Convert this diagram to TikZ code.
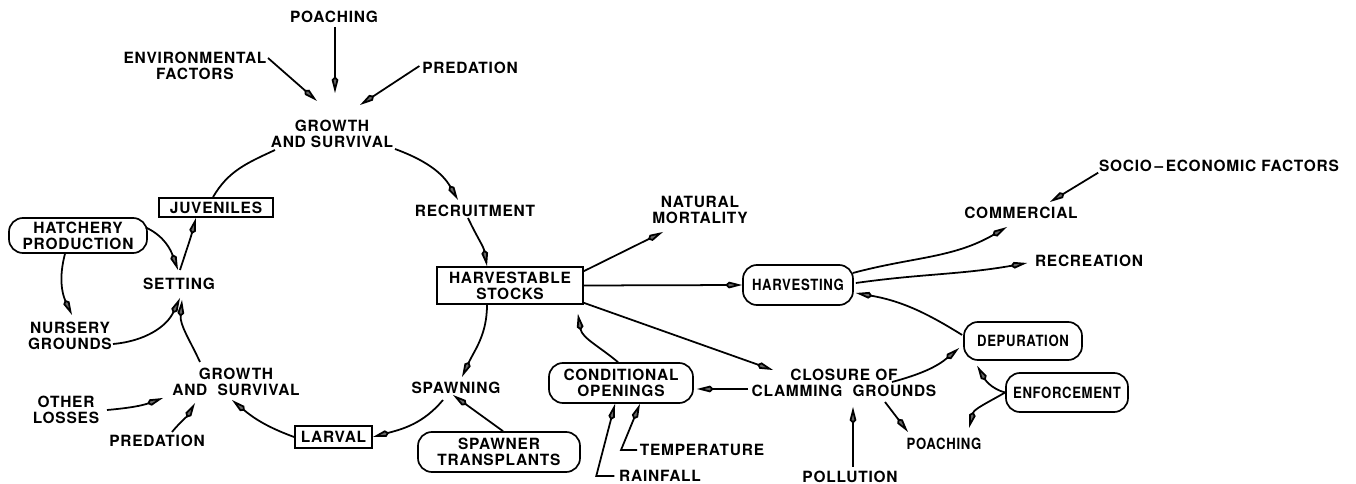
\documentclass[tikz,border=0pt]{standalone}
\usepackage{fontspec}
\setmainfont{TeX Gyre Heros}[LetterSpace=5]
\usetikzlibrary{arrows.meta}
\usetikzlibrary{calc}

\newcommand{\narrow}[1]{\scalebox{0.85}[1]{#1}}

\begin{document}
\begin{tikzpicture}[
        x=0.025cm, y=-0.025cm,
        >={Kite[length=0.42cm, width=0.17cm, inset=0.09cm, fill=black!60]},
        line width=1.25pt,
        every node/.style={font=\fontsize{11}{11.5}\selectfont\bfseries, align=center, inner sep=0pt},
        box/.style={draw, line width=1.2pt},
        rbox/.style={draw, line width=1.2pt, rounded corners=0.35cm},
        flow/.style={->},
    ]

    \useasboundingbox (0,0) rectangle (1356,484);

    % life cycle
    \node (poachTop) at (334,17) {POACHING};
    \node (envir) at (195,66) {ENVIRONMENTAL\\FACTORS};
    \node (predTop) at (470,68) {PREDATION};
    \node (growthTop) at (332,134) {GROWTH\\AND SURVIVAL};
    \node[box, minimum width=2.85cm, minimum height=0.475cm] (juv) at (216,207.5) {JUVENILES};
    \node[rbox, minimum width=3.45cm, minimum height=0.875cm] (hatch) at (78,235.5) {HATCHERY\\PRODUCTION};
    \node (setting) at (179,284) {SETTING};
    \node (nursery) at (70,336) {NURSERY\\GROUNDS};
    \node (growthBot) at (236,382) {GROWTH\\AND\ \ SURVIVAL};
    \node (others) at (66,410) {OTHER\\LOSSES};
    \node (predBot) at (157,441) {PREDATION};
    \node[box, minimum width=1.925cm, minimum height=0.55cm] (larval) at (333.5,437) {LARVAL};
    \node (spawning) at (456,388) {SPAWNING};
    \node[rbox, minimum width=4.05cm, minimum height=1cm] (spawner) at (499,452) {SPAWNER\\TRANSPLANTS};
    \node (recruit) at (475,211) {RECRUITMENT};
    \node[box, minimum width=3.65cm, minimum height=0.925cm] (stocks) at (510,285.5) {HARVESTABLE\\STOCKS};

    % management
    \node (natural) at (700,210) {NATURAL\\MORTALITY};
    \node[rbox, minimum width=3.6cm, minimum height=1cm] (openings) at (621,383) {CONDITIONAL\\OPENINGS};
    \node (closure) at (844,383) {CLOSURE OF\\CLAMMING\ \ GROUNDS};
    \node (temp) at (702,450) {TEMPERATURE};
    \node (rainfall) at (660,476) {RAINFALL};
    \node (pollution) at (850,477) {POLLUTION};
    \node[rbox, minimum width=2.75cm, minimum height=1cm] (harvest) at (798,285) {\narrow{HARVESTING}};
    \node[rbox, minimum width=2.95cm, minimum height=0.95cm] (depur) at (1023,341) {\narrow{DEPURATION}};
    \node[rbox, minimum width=3.05cm, minimum height=0.975cm] (enforce) at (1067,392.5) {\narrow{ENFORCEMENT}};
    \node (poachBot) at (944,444) {\narrow{POACHING}};
    \node (commercial) at (1021,213) {COMMERCIAL};
    \node (recreation) at (1089,261) {RECREATION};
    \node (socio) at (1219,166) {SOCIO\,--\,ECONOMIC FACTORS};

    % connectors
    \draw[flow] ($(poachTop)+(1,10)$) -- ($(growthTop)+(3,-41)$);
    \draw[flow] ($(envir)+(73,-8)$) -- ($(growthTop)+(-15,-33)$);
    \draw[flow] ($(predTop.west)+(-2,-2)$) -- ($(growthTop)+(28,-29)$);
    \draw[flow] ($(growthTop)+(63,15)$) to[out=-20, in=120] ($(recruit)+(-17,-11)$);
    \draw ($(growthTop)+(-57,16)$) to[out=205, in=60] ($(juv.north)+(-3,0)$);
    \draw[flow] ($(setting)+(1,-14)$) to[out=72, in=255] ($(juv.south)+(-20,0)$);
    \draw[flow] ($(hatch.east)+(-2,-8)$) to[out=-25, in=110] ($(setting)+(-1,-14)$);
    \draw[flow] ($(hatch.south)+(-13,0)$) to[out=255, in=115] ($(nursery)+(2,-21)$);
    \draw[flow] ($(nursery)+(43,8)$) to[out=5, in=245] ($(setting)+(1,14)$);
    \draw[flow] ($(growthBot)+(-36,-20)$) to[out=115, in=-95] ($(setting)+(3,16)$);
    \draw[flow] ($(others)+(41,0)$) to[out=5, in=200] ($(growthBot)+(-73,16)$);
    \draw[flow] ($(predBot)+(15,-9)$) to[out=50, in=240] ($(growthBot)+(-41,21)$);
    \draw[flow] (larval.west) to[out=160, in=-40] ($(growthBot)+(-4,18)$);
    \draw[flow] ($(spawning)+(-13,12)$) to[out=230, in=15] (larval.east);
    \draw[flow] ($(recruit)+(-7,7)$) to[out=-65, in=100] ($(stocks.north)+(-23,0)$);
    \draw[flow] ($(stocks.south)+(-23,0)$) to[out=-90, in=65] ($(spawning)+(6,-11)$);
    \draw[flow] ($(spawner.north)+(4,0)$) -- ($(spawning)+(-3,7)$);

    \draw[flow] ($(stocks.north east)+(0,5)$) -- ($(natural)+(-37,22)$);
    \draw[flow] (stocks.east) -- (harvest.west);
    \draw[flow] ($(stocks.south east)+(0,-2)$) -- ($(closure)+(-71,-13)$);
    \draw[flow] ($(closure)+(-96,6)$) -- ($(openings.east)+(3,6)$);
    \draw[flow] ($(openings.north)+(-3,0)$) to[out=140, in=-80] ($(stocks.south east)+(-6,9)$);
    \draw[flow] ($(rainfall.west)+(-4,0)$) -- ++(-18,0) -- ($(openings.south)+(-6,0)$);
    \draw[flow] ($(temp.west)+(-2,0)$) -- ++(-16,0) -- ($(openings.south)+(19,0)$);
    \draw[flow] ($(pollution)+(3,-10)$) -- ($(closure)+(9,24)$);
    \draw[flow] ($(closure)+(48,-1)$) to[out=15, in=220] ($(depur.west)+(-4,7)$);
    \draw[flow] ($(closure)+(41,19)$) -- ($(poachBot)+(-36,-12)$);
    \draw[flow] ($(depur.west)+(-1,-6)$) to[out=148, in=-10] ($(harvest.east)+(2,8)$);
    \draw[flow] (enforce.west) to[out=165, in=-60] ($(depur.south west)+(14,5)$);
    \draw[flow] (enforce.west) to[out=210, in=75] ($(poachBot)+(25,-16)$);
    \draw[flow] ($(harvest.east)+(-1,-12)$) to[out=15, in=210] ($(commercial)+(-14,14)$);
    \draw[flow] ($(harvest.east)+(2,-2)$) to[out=8, in=190] ($(recreation.west)+(-7,2)$);
    \draw[flow] (socio.south west) -- ($(commercial)+(29,-11)$);

\end{tikzpicture}
\end{document}
